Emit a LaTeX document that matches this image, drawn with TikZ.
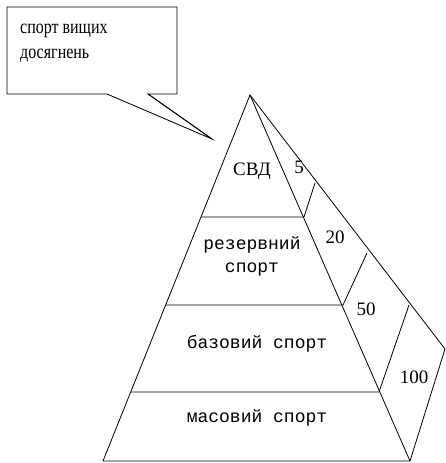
\documentclass[tikz,border=0pt]{standalone}
\usepackage{fontspec}
\setmainfont{Liberation Serif}
\newfontfamily\monof{Liberation Mono}
\tikzset{
  edge/.style={draw=black, line width=0.8pt, line join=miter},
  serlab/.style={inner sep=0pt, anchor=base, font=\fontsize{19}{21}\selectfont},
  monolab/.style={inner sep=0pt, anchor=base, font=\monof\fontsize{18}{20}\selectfont},
  calltext/.style={inner sep=0pt, anchor=base west, font=\fontsize{20}{22}\selectfont}
}
\begin{document}
\begin{tikzpicture}[x=1pt,y=-1pt]
\useasboundingbox (0,0) rectangle (446,463);
% pyramid coordinates
\coordinate (A) at (250,95);
\coordinate (BL) at (103,461);
\coordinate (BR) at (410,461);
\coordinate (O) at (445,349);
\coordinate (L1l) at (201,217);
\coordinate (L1r) at (304,217);
\coordinate (L2l) at (166,305);
\coordinate (L2r) at (343,305);
\coordinate (L3l) at (131,392);
\coordinate (L3r) at (379,392);
\coordinate (D1) at (315,183);
\coordinate (D2) at (367,253);
\coordinate (D3) at (409,305);
% callout
\coordinate (C1) at (7,7);
\coordinate (C2) at (177,94);
\coordinate (P1) at (107,94);
\coordinate (P2) at (148,94);
\coordinate (T) at (212,139);
\draw[edge] (P2) -- (C2) -- (C2 |- C1) -- (C1) -- (C1 |- C2) -- (P1) -- (T) -- cycle;
\draw[edge] (T) -- (P2);
% front face
\draw[edge] (A) -- (BL) -- (BR) -- cycle;
% side face
\draw[edge] (A) -- (O) -- (BR);
% level lines
\draw[edge] (L1l) -- (L1r) -- (D1);
\draw[edge] (L2l) -- (L2r) -- (D2);
\draw[edge] (L3l) -- (L3r) -- (D3);
% labels
\node[calltext] (t1) at (20,33) {\scalebox{0.8}[1]{спорт вищих}};
\node[calltext] (t2) at (20,58) {\scalebox{0.8}[1]{досягнень}};
\node[serlab] (svd) at (252,175) {СВД};
\node[serlab] (n5) at (299,173) {5};
\node[monolab] (r1) at (252,249) {резервний};
\node[monolab] (r2) at (252,272) {спорт};
\node[serlab] (n20) at (335,243) {20};
\node[serlab] (n50) at (366,315) {50};
\node[monolab] (b) at (257,348) {базовий спорт};
\node[serlab] (n100) at (414,383) {100};
\node[monolab] (m) at (257,422) {масовий спорт};
\end{tikzpicture}
\end{document}
